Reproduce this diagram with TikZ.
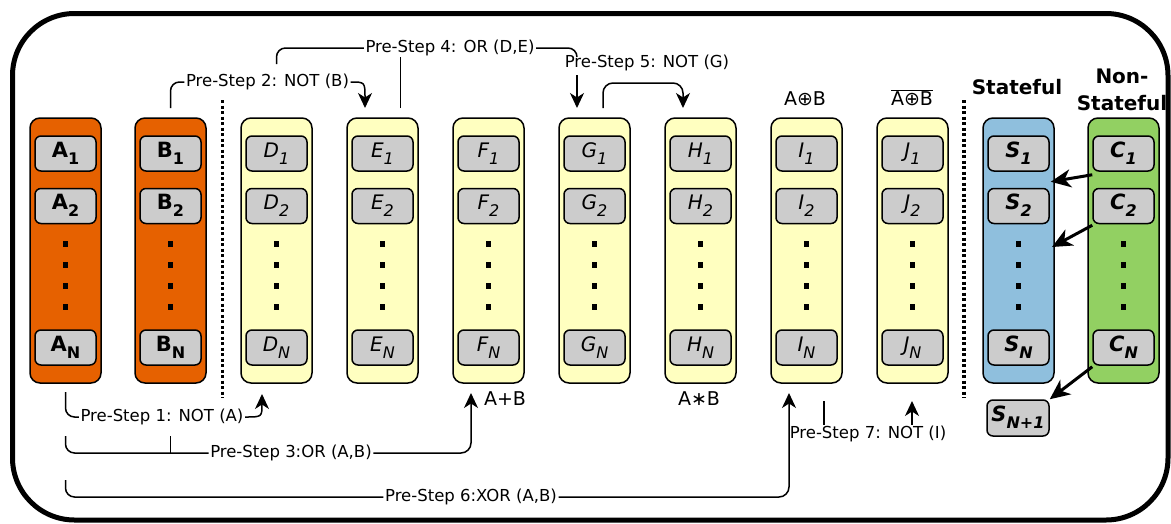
\documentclass[tikz,border=0pt]{standalone}
\usepackage{fontspec}
\setmainfont{DejaVu Sans}
\usetikzlibrary{arrows.meta}
\definecolor{orng}{HTML}{E66100}
\definecolor{ylw}{HTML}{FFFFC0}
\definecolor{blu}{HTML}{8FBFDD}
\definecolor{grn}{HTML}{92D062}
\definecolor{cellgray}{HTML}{CCCCCC}
\newcommand\csub[1]{\raisebox{-7pt}{\fontsize{16}{18}\selectfont #1}}
\begin{document}
\begin{tikzpicture}[x=1pt,y=-1pt,
  colbox/.style={draw, line width=1.5pt, rounded corners=10pt, minimum width=71pt, minimum height=265pt, inner sep=0pt},
  cell/.style={draw, line width=1.5pt, rounded corners=6pt, fill=cellgray, minimum width=61pt, minimum height=35pt, inner sep=0pt, text height=11pt, text depth=4pt},
  bcell/.style={cell, font=\fontsize{21}{24}\selectfont\bfseries},
  icell/.style={cell, font=\fontsize{20}{23}\selectfont\itshape},
  bicell/.style={cell, font=\fontsize{21}{24}\selectfont\bfseries\itshape},
  lbl/.style={font=\fontsize{16.5}{19}\selectfont, inner sep=1.5pt},
  toplbl/.style={font=\fontsize{19}{22}\selectfont, inner sep=1pt},
  head/.style={font=\fontsize{20}{27}\selectfont\bfseries, inner sep=0pt, align=center},
  conn/.style={line width=1.5pt},
  arr/.style={conn, -{Stealth[length=15pt,width=14pt,inset=4.5pt]}},
  bigarr/.style={line width=3pt, -{Stealth[length=20pt,width=18pt,inset=6pt]}},
  sep/.style={line width=3.2pt, dash pattern=on 3pt off 2.5pt}
]
\useasboundingbox (0,0) rectangle (1171,523);
% outer frame
\draw[line width=5pt, rounded corners=62pt] (12.5,13.5) rectangle (1168,520);

% columns with dots
\foreach \n/\x/\col in {A/65.5/orng, B/170.5/orng, D/276.5/ylw, E/382.5/ylw, F/488.5/ylw, G/594.5/ylw, H/700.5/ylw, I/806.5/ylw, J/912.5/ylw, S/1018.5/blu, C/1123.5/grn}{
  \node[colbox, fill=\col] (col\n) at (\x,250.5) {};
  \foreach \y in {244,265,286,307} \fill (\x-2.75,\y-2.75) rectangle ++(5.5,5.5);
}

% cells
\foreach \n/\x in {A/65.5, B/170.5}{
  \node[bcell] (\n1) at (\x,153.5) {\n\csub{1}};
  \node[bcell] (\n2) at (\x,206) {\n\csub{2}};
  \node[bcell] (\n N) at (\x,347.5) {\n\csub{N}};
}
\foreach \n/\x in {D/276.5, E/382.5, F/488.5, G/594.5, H/700.5, I/806.5, J/912.5}{
  \node[icell] (\n1) at (\x,153.5) {\n\csub{1}};
  \node[icell] (\n2) at (\x,206) {\n\csub{2}};
  \node[icell] (\n N) at (\x,347.5) {\n\csub{N}};
}
\foreach \n/\x in {S/1018.5, C/1123.5}{
  \node[bicell] (\n1) at (\x,153.5) {\n\csub{1}};
  \node[bicell] (\n2) at (\x,206) {\n\csub{2}};
  \node[bicell] (\n N) at (\x,347.5) {\n\csub{N}};
}
\node[bicell, minimum width=62pt, minimum height=36pt] (SN1) at (1018,418) {S\csub{N+1}};

% separators
\draw[sep] (222.5,100) -- (222.5,398);
\draw[sep] (964,100) -- (964,398);

% headings and result labels
\node[toplbl, anchor=base] (xorlbl) at (805,105) {A⊕B};
\node[toplbl, anchor=base] (xnorlbl) at (912,105) {$\overline{\hbox{A⊕B}}$};
\node[toplbl] (orlbl) at (505,399) {A+B};
\node[toplbl] (andlbl) at (699,399) {A∗B};
\node[head, anchor=base] (stateful) at (1017,94.5) {Stateful};
\node[head] (nonstateful) at (1122,90) {Non-\\Stateful};

% step labels
\node[lbl] (t1) at (162,417) {Pre-Step 1: NOT (A)};
\node[lbl] (t2) at (267.5,82) {Pre-Step 2: NOT (B)};
\node[lbl] (t3) at (291,453) {Pre-Step 3:OR (A,B)};
\node[lbl] (t4) at (450,48) {Pre-Step 4: OR (D,E)};
\node[lbl] (t5) at (647,63) {Pre-Step 5: NOT (G)};
\node[lbl] (t6) at (471,497) {Pre-Step 6:XOR (A,B)};
\node[lbl] (t7) at (868,434) {Pre-Step 7: NOT (I)};

% connector coordinates
\coordinate (a1) at (65.5,392);
\coordinate (d1) at (262,394);
\coordinate (a3) at (65.5,436);
\coordinate (b3) at (170.5,436);
\coordinate (b3m) at (170.5,453);
\coordinate (f3) at (471,393);
\coordinate (a6) at (65.5,480);
\coordinate (i6) at (789,393);
\coordinate (b2) at (170.5,108);
\coordinate (e2) at (365,108);
\coordinate (d4) at (276.5,64);
\coordinate (e4a) at (400.5,108);
\coordinate (e4b) at (400.5,57);
\coordinate (g4) at (577,57);
\coordinate (g5a) at (577,75);
\coordinate (g5b) at (577,108);
\coordinate (g6) at (603,108);
\coordinate (h6) at (683,83);
\coordinate (h6b) at (683,108);
\coordinate (i7a) at (824,401);
\coordinate (i7b) at (824,425);
\coordinate (j7a) at (912,425);
\coordinate (j7b) at (912,401);
\coordinate (s2tip) at (1052,247);

% step 1
\draw[conn, rounded corners=9pt] (a1) |- (t1.west);
\draw[arr] (t1.east) .. controls (262,417) .. (d1);
% step 2
\draw[conn, rounded corners=9pt] (b2) |- (t2.west);
\draw[arr] (t2.east) .. controls (365,82) .. (e2);
% step 3
\draw[conn, rounded corners=9pt] (a3) |- (t3.west);
\draw[conn] (b3) -- (b3m);
\draw[arr, rounded corners=10pt] (t3.east) -| (f3);
% step 4
\draw[conn, rounded corners=9pt] (d4) |- (t4.west);
\draw[conn] (e4a) -- (e4b);
\draw[conn, rounded corners=9pt] (t4.east) -| (g4);
% step 5
\draw[arr] (g5a) -- (g5b);
\draw[arr, rounded corners=10pt] (g6) |- (h6) -- (h6b);
% step 6
\draw[conn, rounded corners=9pt] (a6) |- (t6.west);
\draw[arr, rounded corners=10pt] (t6.east) -| (i6);
% step 7
\draw[conn] (i7a) -- (i7b);
\draw[arr] (j7a) -- (j7b);

% stateful / non-stateful arrows
\draw[bigarr] ([yshift=-3pt]C1.south west) -- ([shift={(1pt,6pt)}]S2.north east);
\draw[bigarr] ([yshift=-1pt]C2.south west) -- (s2tip);
\draw[bigarr] ([yshift=-1pt]CN.south west) -- (SN1.north east);
\end{tikzpicture}
\end{document}
